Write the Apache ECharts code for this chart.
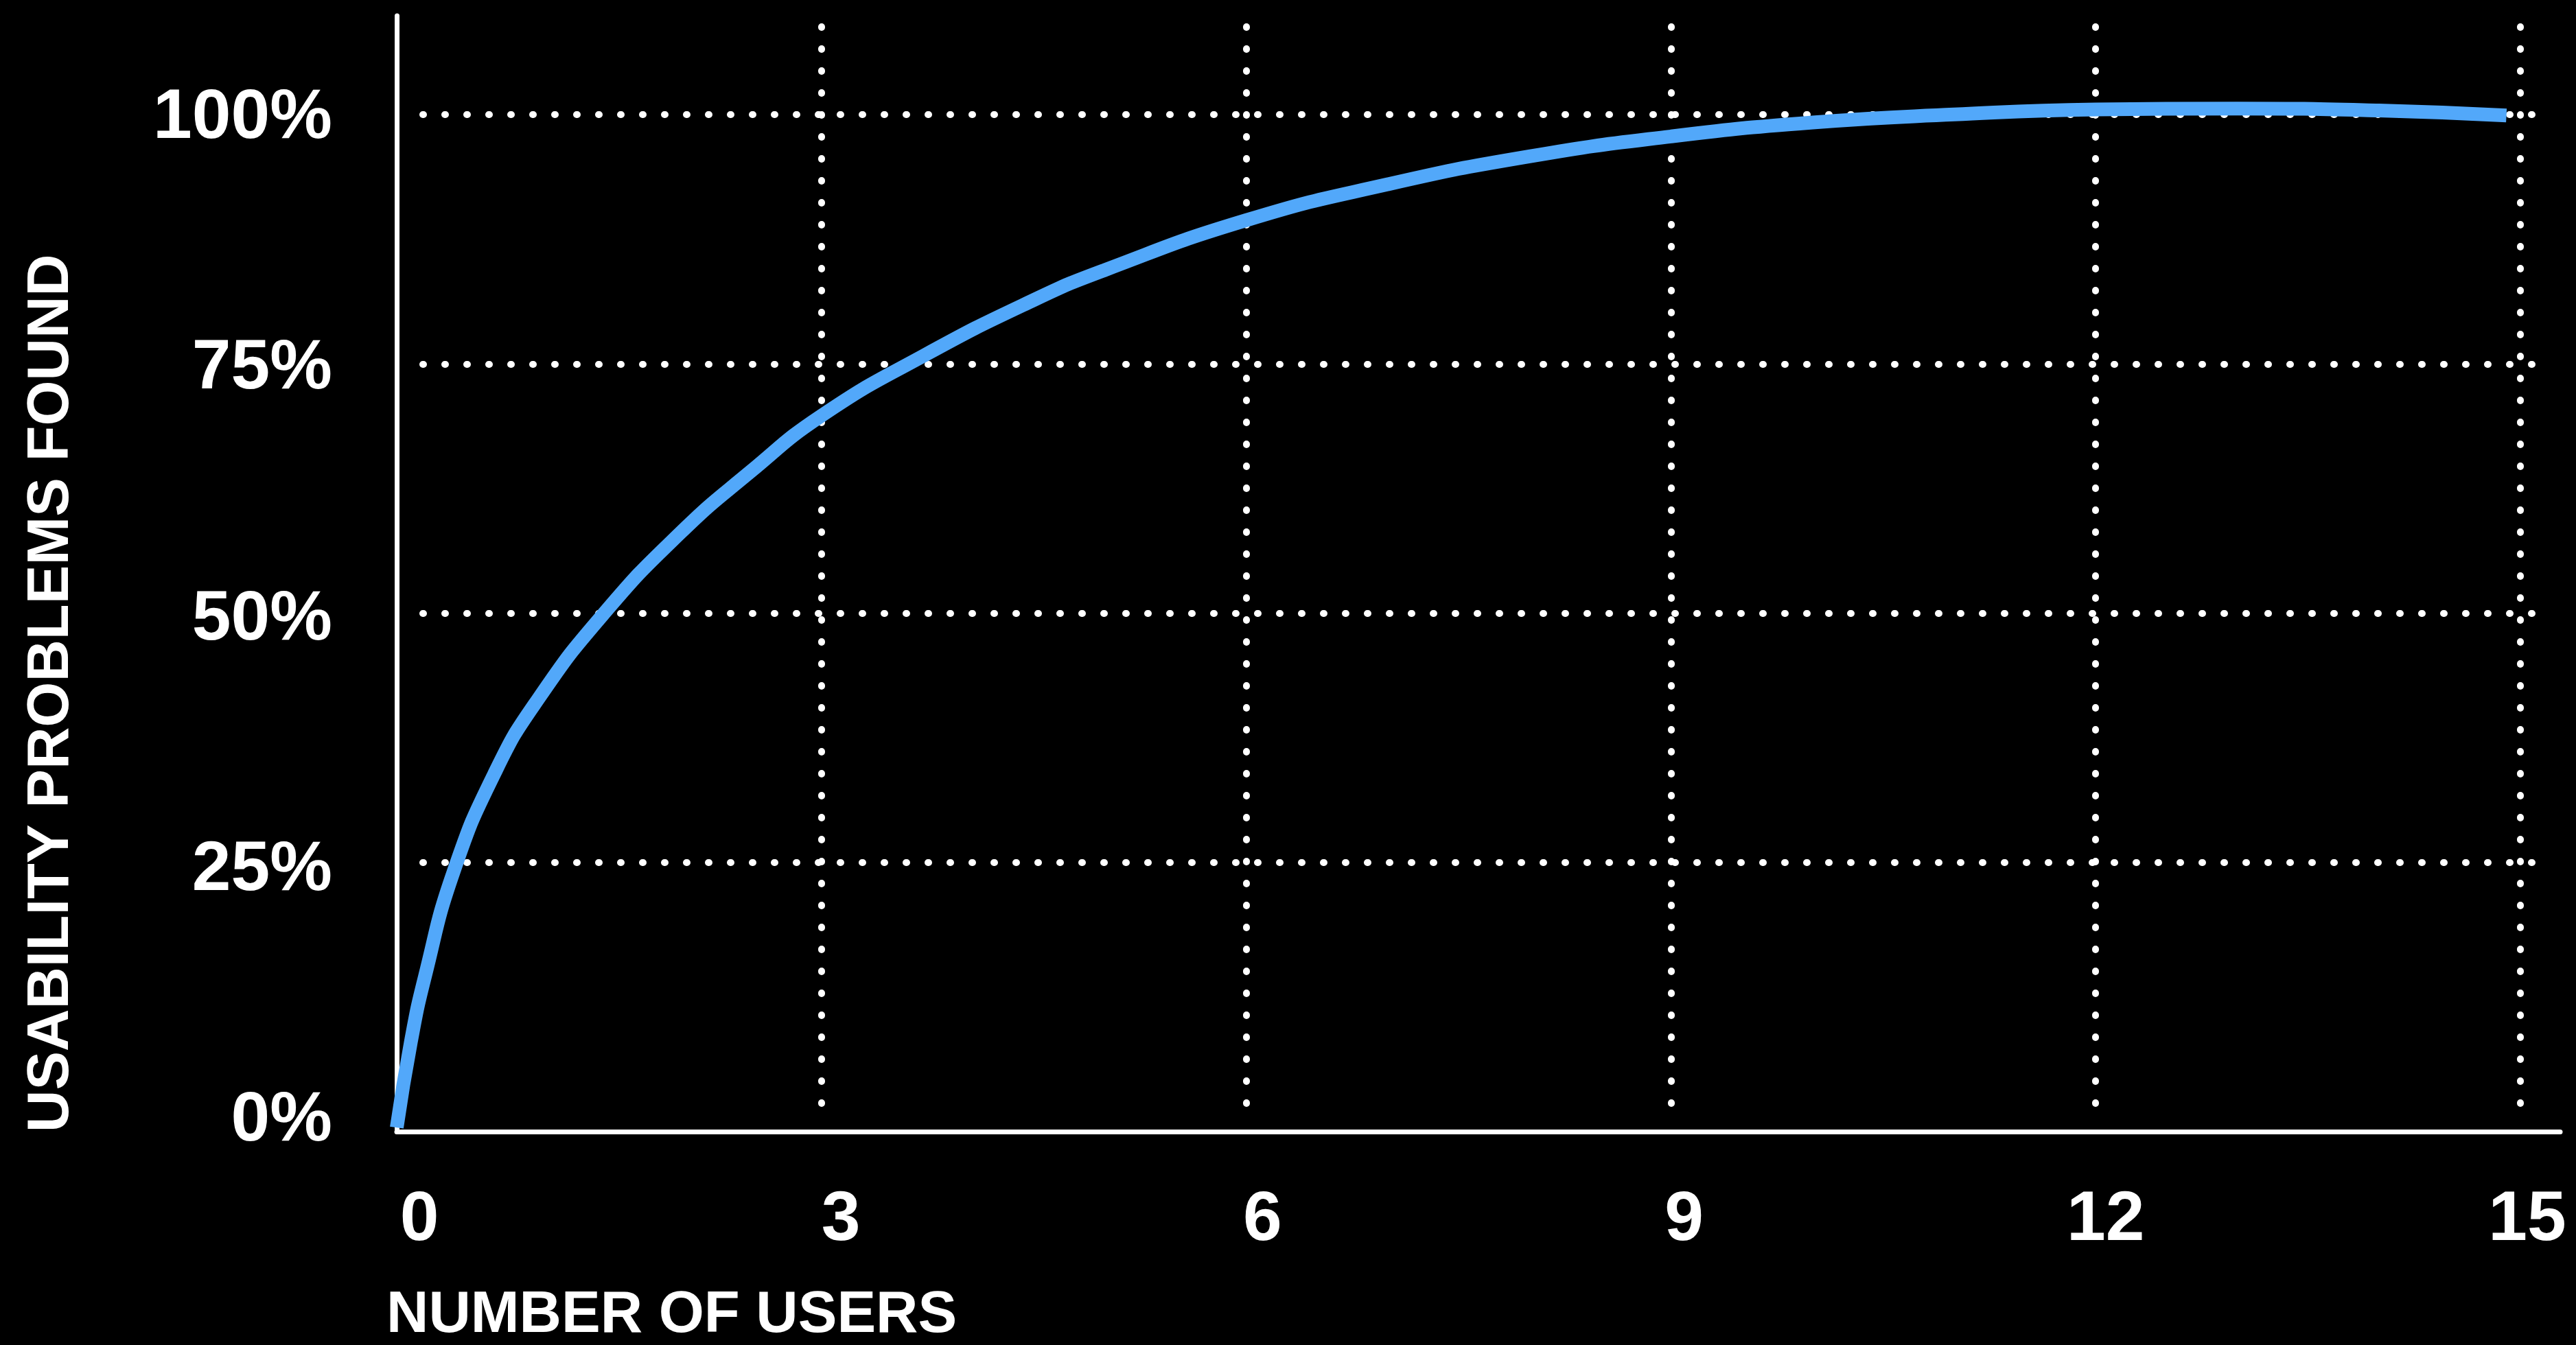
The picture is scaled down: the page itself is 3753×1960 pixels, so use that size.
<!DOCTYPE html>
<html>
<head>
<meta charset="utf-8">
<style>
  html, body { margin: 0; padding: 0; background: #000; }
  #chart { width: 3753px; height: 1960px; }
</style>
<script src="https://cdn.jsdelivr.net/npm/echarts@6/dist/echarts.min.js"></script>
</head>
<body>
<div id="chart"></div>
<script>
// ---- data ----
const userCounts    = [0, 0.1, 0.2, 0.4, 0.7, 1, 1.46, 2, 2.5, 3, 3.72, 4.5, 5, 6, 7, 8, 9, 10, 11, 12, 13, 14, 14.9];
const problemsFound = [-1.6, 7.0, 13.6, 24.0, 34.2, 41.4, 49.9, 58.0, 64.2, 69.8, 75.8, 81.4, 84.4, 89.4, 93.0, 95.8, 97.8, 99.2, 100.0, 100.5, 100.6, 100.4, 99.9];
const xTickStep = 3, xTickMax = 15;
const yTickStep = 25, yTickMax = 100;
const xTitle = 'NUMBER OF USERS';
const yTitle = 'USABILITY PROBLEMS FOUND';

const FONT = '"Liberation Sans", Arial, Helvetica, sans-serif';
const WHITE = '#ffffff';
const BLUE = '#52a8fa';
const dotted = { color: WHITE, width: 10, type: [1, 31], cap: 'round' };

const chart = echarts.init(document.getElementById('chart'), null, { renderer: 'canvas' });

const hidden = { show: false };
const option = {
  backgroundColor: '#000000',
  animation: false,
  grid: [
    // 0: data + axis lines
    { left: 578, right: 23, top: 23, bottom: 311, outerBoundsMode: 'none', containLabel: false },
    // 1: tick labels
    { left: 611, right: 71, top: 173, bottom: 326, outerBoundsMode: 'none', containLabel: false },
    // 2: horizontal dotted grid lines
    { left: 616, right: 64, top: 167, bottom: 340, outerBoundsMode: 'none', containLabel: false },
    // 3: vertical dotted grid lines
    { left: 578, right: 81, top: 39, bottom: 351, outerBoundsMode: 'none', containLabel: false }
  ],
  xAxis: [
    { gridIndex: 0, type: 'value', min: 0, max: 15.28,
      axisLine: { show: true, onZero: false, lineStyle: { color: WHITE, width: 7 } },
      axisTick: hidden, axisLabel: hidden, splitLine: hidden },
    { gridIndex: 1, type: 'value', min: 0, max: xTickMax, interval: xTickStep,
      axisLine: { show: false, onZero: false }, axisTick: hidden, splitLine: hidden,
      axisLabel: { show: true, color: WHITE, fontFamily: FONT, fontWeight: 'bold', fontSize: 102,
                   margin: 145, verticalAlign: 'middle', align: 'center' } },
    { gridIndex: 2, type: 'value', min: 0, max: 1, show: false },
    { gridIndex: 3, type: 'value', min: 0, max: xTickMax, interval: xTickStep,
      axisLine: { show: false, onZero: false }, axisTick: hidden, axisLabel: hidden,
      splitLine: { show: true, showMinLine: false, showMaxLine: true, lineStyle: dotted } }
  ],
  yAxis: [
    { gridIndex: 0, type: 'value', min: -2, max: 109.9,
      axisLine: { show: true, onZero: false, lineStyle: { color: WHITE, width: 7 } },
      axisTick: hidden, axisLabel: hidden, splitLine: hidden },
    { gridIndex: 1, type: 'value', min: 0, max: yTickMax, interval: yTickStep,
      axisLine: { show: false, onZero: false }, axisTick: hidden, splitLine: hidden,
      axisLabel: { show: true, color: WHITE, fontFamily: FONT, fontWeight: 'bold', fontSize: 102,
                   margin: 127, formatter: v => v + '%' } },
    { gridIndex: 2, type: 'value', min: 0, max: yTickMax, interval: yTickStep,
      axisLine: { show: false, onZero: false }, axisTick: hidden, axisLabel: hidden,
      splitLine: { show: true, showMinLine: false, showMaxLine: true, lineStyle: dotted } },
    { gridIndex: 3, type: 'value', min: 0, max: 1, show: false }
  ],
  series: [
    {
      type: 'line',
      xAxisIndex: 0, yAxisIndex: 0,
      data: userCounts.map((u, i) => [u, problemsFound[i]]),
      smooth: 0.5,
      symbol: 'none',
      z: 10,
      lineStyle: { color: BLUE, width: 20, cap: 'butt', join: 'round' }
    }
  ],
  graphic: [
    { type: 'text', x: 563, y: 1918, z: 20,
      style: { text: xTitle, fill: WHITE, font: 'bold 85px ' + FONT, align: 'left', verticalAlign: 'middle' } },
    { type: 'text', x: 76, y: 1650, rotation: Math.PI / 2, z: 20,
      style: { text: yTitle, fill: WHITE, font: 'bold 85px ' + FONT, align: 'left', verticalAlign: 'middle' } }
  ]
};
chart.setOption(option);
</script>
</body>
</html>
